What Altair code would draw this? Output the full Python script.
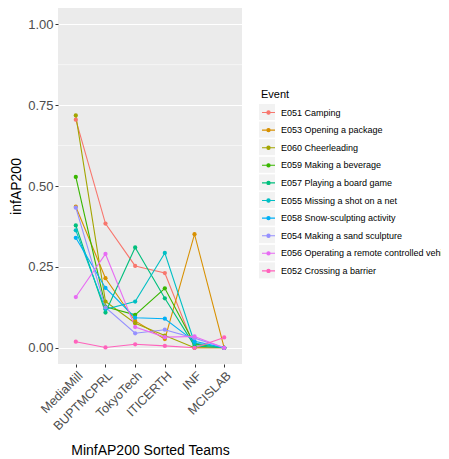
import altair as alt
import pandas as pd

teams = ["MediaMill", "BUPTMCPRL", "TokyoTech", "ITICERTH", "INF", "MCISLAB"]
events = [
    "E051 Camping",
    "E053 Opening a package",
    "E060 Cheerleading",
    "E059 Making a beverage",
    "E057 Playing a board game",
    "E055 Missing a shot on a net",
    "E058 Snow-sculpting activity",
    "E054 Making a sand sculpture",
    "E056 Operating a remote controlled vehicle",
    "E052 Crossing a barrier",
]
colors = ["#F8766D", "#D89000", "#A3A500", "#39B600", "#00BF7D",
          "#00BFC4", "#00B0F6", "#9590FF", "#E76BF3", "#FF62BC"]

e051 = [0.705, 0.384, 0.253, 0.231, 0.000, 0.000]
e053 = [0.436, 0.215, 0.083, 0.027, 0.351, 0.000]
e060 = [0.718, 0.143, 0.076, 0.038, 0.000, 0.000]
e059 = [0.528, 0.127, 0.102, 0.184, 0.012, 0.000]
e057 = [0.378, 0.109, 0.310, 0.153, 0.006, 0.000]
e055 = [0.363, 0.119, 0.143, 0.293, 0.015, 0.000]
e058 = [0.340, 0.185, 0.093, 0.090, 0.020, 0.000]
e054 = [0.433, 0.125, 0.045, 0.056, 0.030, 0.000]
e056 = [0.157, 0.290, 0.064, 0.033, 0.035, 0.000]
e052 = [0.019, 0.001, 0.011, 0.006, 0.000, 0.032]
series = [e051, e053, e060, e059, e057, e055, e058, e054, e056, e052]

major_ticks = [0.0, 0.25, 0.5, 0.75, 1.0]
minor_ticks = [0.125, 0.375, 0.625, 0.875]

rows = []
for ev, vals in zip(events, series):
    for t, v in zip(teams, vals):
        rows.append({"Event": ev, "Team": t, "value": v})
df = pd.DataFrame(rows)
minor_df = pd.DataFrame({"value": minor_ticks})
key_names = ["key " + e for e in events]

FONT = "Liberation Sans"
ydomain = [-0.05, 1.05]

x_enc = alt.X(
    "Team:N", sort=teams,
    scale=alt.Scale(type="point", padding=0.6),
    axis=alt.Axis(title="MinfAP200 Sorted Teams", labelAngle=315,
                  labelAlign="right", labelBaseline="top", labelPadding=2,
                  labelFontSize=12.5,
                  titleX=92, titleY=90, titleBaseline="alphabetic",
                  titleAnchor="middle", titleAlign="center"),
)
y_axis = alt.Axis(title="infAP200", values=major_ticks, format=".2f",
                  labelFontSize=13,
                  titleX=-38, titleY=178, titleBaseline="alphabetic",
                  titleAlign="center", titleAngle=270)
y_enc = alt.Y(
    "value:Q",
    scale=alt.Scale(domain=ydomain, nice=False, zero=False),
    axis=y_axis,
)

minor_layer = alt.Chart(minor_df).mark_rule(color="white", strokeWidth=0.55).encode(
    y=y_enc
)

key_layer = alt.Chart(df).transform_filter("false").transform_calculate(
    Key="'key ' + datum.Event"
).mark_point(shape="square", filled=True, opacity=1).encode(
    x=x_enc, y=y_enc,
    color=alt.Color(
        "Key:N",
        scale=alt.Scale(domain=key_names, range=["#F2F2F2"] * len(events)),
        legend=alt.Legend(title=None, orient="none", legendX=201, legendY=96,
                          symbolType="square", symbolSize=256, symbolStrokeWidth=0,
                          labelExpr="''", labelFontSize=9, rowPadding=1.6,
                          labelOffset=4),
    ),
)

dot_path = ("M-1,0L1,0"
            "M-0.25,0a0.25,0.25 0 1,0 0.5,0a0.25,0.25 0 1,0 -0.5,0"
            "M-0.14,0a0.14,0.14 0 1,0 0.28,0a0.14,0.14 0 1,0 -0.28,0"
            "M-0.05,0a0.05,0.05 0 1,0 0.1,0a0.05,0.05 0 1,0 -0.1,0")

line_layer = alt.Chart(df).mark_line(strokeWidth=1.1).encode(
    x=x_enc, y=y_enc,
    stroke=alt.Stroke(
        "Event:N",
        scale=alt.Scale(domain=events, range=colors),
        legend=alt.Legend(title="Event", orient="none", legendX=203, legendY=81,
                          symbolType=dot_path, symbolSize=169, symbolStrokeWidth=1.1,
                          labelFontSize=9, labelColor="#000000", labelFont=FONT,
                          titleFontSize=11, titleFont=FONT, titleColor="#000000",
                          titleFontWeight="normal", titlePadding=5, rowPadding=4.6,
                          labelOffset=5, labelLimit=400),
    ),
    detail="Event:N",
)

point_layer = alt.Chart(df).mark_circle(size=18, opacity=1).encode(
    x=x_enc, y=y_enc,
    fill=alt.Fill("Event:N", scale=alt.Scale(domain=events, range=colors), legend=None),
)

chart = alt.layer(minor_layer, key_layer, line_layer, point_layer).properties(
    width=184, height=356,
    autosize=alt.AutoSizeParams(type="none"),
    padding={"left": 50, "top": 0, "right": 199, "bottom": 95},
).configure_view(
    fill="#EBEBEB", stroke=None
).configure_axis(
    domain=False, tickColor="#333333", tickSize=3, tickWidth=1,
    labelColor="#4D4D4D", labelFontSize=12, labelFont=FONT,
    titleColor="#000000", titleFontSize=14, titleFont=FONT, titleFontWeight="normal",
    gridColor="#FFFFFF", gridWidth=1.1, labelPadding=2,
).configure_legend(
    labelFont=FONT, titleFont=FONT
)

chart.save("out.html", embed_options={"renderer": "svg", "actions": False})
